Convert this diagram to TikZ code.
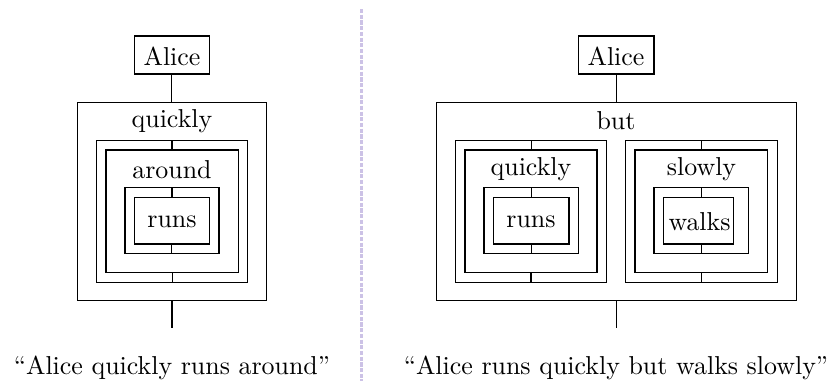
\documentclass[tikz,border=0pt]{standalone}
\usetikzlibrary{fit}
\definecolor{sepcol}{RGB}{204,194,230}
\begin{document}
\begin{tikzpicture}[x=0.386pt,y=-0.386pt,
  bx/.style={draw, line width=0.4pt, inner sep=0pt, outer sep=0pt},
  lbl/.style={inner sep=0pt, outer sep=0pt},
  wire/.style={line width=0.4pt},
  sepline/.style={sepcol, line width=1pt, dash pattern=on 1.6pt off 0.6pt}]
\useasboundingbox (0,0) rectangle (832,381);

% ---------- left diagram ----------
\node[bx, fit={(134.3,36) (209.3,74)}] (aliceL) {};
\node[lbl] (aliceLt) at (172,56) {Alice};
\node[bx, fit={(77.3,102.7) (266.7,300.7)}] (qL) {};
\node[lbl] (qLt) at (172,121) {quickly};
\node[bx, fit={(96.7,140.7) (247.3,282.3)}] (aFo) {};
\node[bx, fit={(106,150) (238.3,272.7)}] (aFi) {};
\node[lbl] (aFt) at (172,169.5) {around};
\node[bx, fit={(125,187.7) (219,253.3)}] (rFo) {};
\node[bx, fit={(134.3,197.3) (209.3,244)}] (rFi) {};
\node[lbl] (rFt) at (172,221.5) {runs};
\coordinate (endL) at (172,328.3);

\draw[wire] (aliceL.south) -- (aliceL.south |- qL.north);
\draw[wire] (aFo.north) -- (aFo.north |- aFi.north);
\draw[wire] (rFo.north) -- (rFo.north |- rFi.north);
\draw[wire] (rFi.south) -- (rFi.south |- rFo.south);
\draw[wire] (aFi.south) -- (aFi.south |- aFo.south);
\draw[wire] (qL.south) -- (qL.south |- endL);

% ---------- separator ----------
\coordinate (sepTop) at (361.7,9);
\coordinate (sepBot) at (361.7,381);
\draw[sepline] (sepTop) -- (sepBot);

% ---------- right diagram ----------
\node[bx, fit={(578.3,36) (654,74)}] (aliceR) {};
\node[lbl] (aliceRt) at (616,56) {Alice};
\node[bx, fit={(436.7,102.7) (796,300.7)}] (butB) {};
\node[lbl] (butt) at (616,121) {but};

\node[bx, fit={(455.7,140.7) (606.7,282.3)}] (qFo) {};
\node[bx, fit={(465,150) (597,272.7)}] (qFi) {};
\node[lbl] (qFt) at (531,169.5) {quickly};
\node[bx, fit={(484,187.7) (578.3,253.3)}] (r2Fo) {};
\node[bx, fit={(493.3,197.3) (569,244)}] (r2Fi) {};
\node[lbl] (r2Ft) at (531,221.5) {runs};

\node[bx, fit={(625.7,140.7) (777,282.3)}] (sFo) {};
\node[bx, fit={(635,150) (767.7,272.7)}] (sFi) {};
\node[lbl] (sFt) at (701.5,169.5) {slowly};
\node[bx, fit={(654,187.7) (748.7,253.3)}] (wFo) {};
\node[bx, fit={(663.7,197.3) (733.3,244)}] (wFi) {};
\node[lbl] (wFt) at (699.5,221.5) {walks};
\coordinate (endR) at (616,328.3);

\draw[wire] (aliceR.south) -- (aliceR.south |- butB.north);
\draw[wire] (qFo.north) -- (qFo.north |- qFi.north);
\draw[wire] (r2Fo.north) -- (r2Fo.north |- r2Fi.north);
\draw[wire] (r2Fi.south) -- (r2Fi.south |- r2Fo.south);
\draw[wire] (qFi.south) -- (qFi.south |- qFo.south);
\draw[wire] (sFo.north) -- (sFo.north |- sFi.north);
\draw[wire] (wFo.north) -- (wFo.north |- wFi.north);
\draw[wire] (wFo.south |- wFi.south) -- (wFo.south);
\draw[wire] (sFi.south) -- (sFi.south |- sFo.south);
\draw[wire] (butB.south) -- (butB.south |- endR);

% ---------- captions ----------
\node[lbl, anchor=base] (capL) at (172,374) {``Alice quickly runs around''};
\node[lbl, anchor=base] (capR) at (616,374) {``Alice runs quickly but walks slowly''};
\end{tikzpicture}
\end{document}
